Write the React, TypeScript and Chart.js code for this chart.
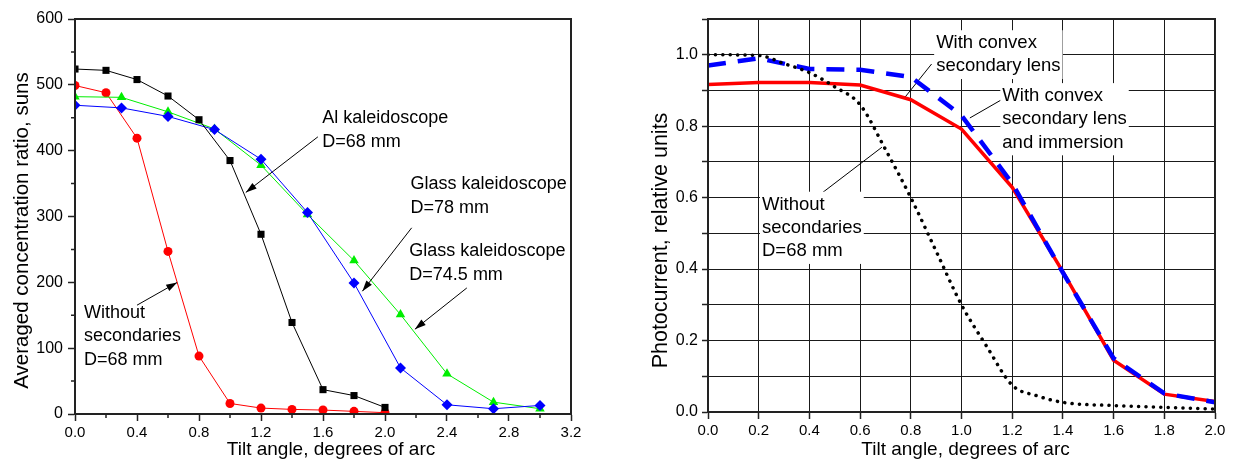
import React, { useEffect, useRef } from 'react';
import { Chart, registerables } from 'chart.js';

Chart.register(...registerables);

const FONT = '"Liberation Sans", Arial, Helvetica, sans-serif';

// ---------------- Left chart data ----------------
const leftAngles = [0, 0.2, 0.4, 0.6, 0.8, 1.0, 1.2, 1.4, 1.6, 1.8, 2.0];
const alKaleidoscope68 = [524, 522, 508, 483, 447, 385, 273, 139, 37, 28, 10];
const withoutSecondaries68 = [499, 488, 419, 247, 88, 16, 9, 7, 6, 4, 2];
const glassAngles = [0, 0.3, 0.6, 0.9, 1.2, 1.5, 1.8, 2.1, 2.4, 2.7, 3.0];
const glassKaleidoscope78 = [469, 465, 452, 432, 387, 306, 199, 70, 14, 8, 13];
const glassKaleidoscope745 = [482, 481, 459, 433, 378, 303, 233, 151, 61, 18, 8];

const leftXTicks = [0, 0.4, 0.8, 1.2, 1.6, 2.0, 2.4, 2.8, 3.2];
const leftXMinor = [0.2, 0.6, 1.0, 1.4, 1.8, 2.2, 2.6, 3.0];
const leftYTicks = [0, 100, 200, 300, 400, 500, 600];
const leftYMinor = [50, 150, 250, 350, 450, 550];

// ---------------- Right chart data ----------------
const rightAngles = [0, 0.2, 0.4, 0.6, 0.8, 1.0, 1.2, 1.4, 1.6, 1.8, 2.0];
const convexLens = [0.917, 0.922, 0.922, 0.915, 0.874, 0.792, 0.629, 0.392, 0.145, 0.05, 0.029];
const convexLensImmersion = [0.97, 0.99, 0.96, 0.958, 0.938, 0.83, 0.64, 0.39, 0.15, 0.052, 0.027];
const noSecAngles = [0, 0.2, 0.3, 0.4, 0.5, 0.6, 0.7, 0.8, 0.9, 1.0, 1.1, 1.2, 1.3, 1.4, 1.6, 1.8, 2.0];
const noSecondariesRel = [1.0, 0.998, 0.975, 0.95, 0.91, 0.86, 0.735, 0.6, 0.45, 0.3, 0.183, 0.075, 0.045, 0.027, 0.018, 0.013, 0.008];

const rightXTicks = [0, 0.2, 0.4, 0.6, 0.8, 1.0, 1.2, 1.4, 1.6, 1.8, 2.0];
const rightYGrid = [0, 0.1, 0.2, 0.3, 0.4, 0.5, 0.6, 0.7, 0.8, 0.9, 1.0, 1.1];
const rightYLabels = ['0.0', '0.2', '0.4', '0.6', '0.8', '1.0'];

// ---------------- Annotations (data coordinates) ----------------
const leftNotes = [
  { lines: ['Al kaleidoscope', 'D=68 mm'], at: [1.595, 449], from: [1.567, 421], to: [1.102, 336.6] },
  { lines: ['Glass kaleidoscope', 'D=78 mm'], at: [2.165, 349.2], from: [2.172, 282.8], to: [1.854, 186.5] },
  { lines: ['Glass kaleidoscope', 'D=74.5 mm'], at: [2.157, 247.8], from: [2.528, 191.5], to: [2.193, 128.8] },
  { lines: ['Without', 'secondaries', 'D=68 mm'], at: [0.058, 154.1], from: [0.4, 165.3], to: [0.659, 199.8] },
];

const rightNotes = [
  { lines: ['With convex', 'secondary lens'], at: [0.9, 1.033], from: [0.882, 0.974], to: [0.777, 0.881] },
  { lines: ['With convex', 'secondary lens', 'and immersion'], at: [1.161, 0.885], from: [1.158, 0.874], to: [1.033, 0.823] },
  { lines: ['Without', 'secondaries', 'D=68 mm'], at: [0.213, 0.581], from: [0.449, 0.6126], to: [0.686, 0.741] },
];

const xy = (xs: number[], ys: number[]) => xs.map((x, i) => ({ x, y: ys[i] }));

function drawArrow(ctx: CanvasRenderingContext2D, x1: number, y1: number, x2: number, y2: number) {
  ctx.beginPath();
  ctx.moveTo(x1, y1);
  ctx.lineTo(x2, y2);
  ctx.stroke();
  const a = Math.atan2(y2 - y1, x2 - x1);
  const L = 11;
  const W = 3.5;
  const c = Math.cos(a);
  const s = Math.sin(a);
  ctx.beginPath();
  ctx.moveTo(x2, y2);
  ctx.lineTo(x2 - L * c + W * s, y2 - L * s - W * c);
  ctx.lineTo(x2 - L * c - W * s, y2 - L * s + W * c);
  ctx.closePath();
  ctx.fill();
}

function drawFrame(ctx: CanvasRenderingContext2D, a: any) {
  ctx.strokeStyle = '#222';
  ctx.lineWidth = 2;
  ctx.strokeRect(a.left, a.top, a.right - a.left, a.bottom - a.top);
}

function drawTitle(ctx: CanvasRenderingContext2D, text: string, x: number, y: number, size: number, rot: number) {
  ctx.save();
  ctx.translate(x, y);
  ctx.rotate(rot);
  ctx.font = `${size}px ${FONT}`;
  ctx.fillStyle = '#000';
  ctx.textAlign = 'center';
  ctx.textBaseline = 'middle';
  ctx.fillText(text, 0, 0);
  ctx.restore();
}

const leftDecor = {
  id: 'leftDecor',
  afterDraw(chart: any) {
    const { ctx, chartArea: a, scales } = chart;
    const sx = scales.x;
    const sy = scales.y;
    ctx.save();
    drawFrame(ctx, a);
    ctx.strokeStyle = '#222';
    ctx.lineWidth = 1.5;
    ctx.beginPath();
    for (const v of leftXMinor) {
      const p = sx.getPixelForValue(v);
      ctx.moveTo(p, a.bottom);
      ctx.lineTo(p, a.bottom + 4);
    }
    for (const v of leftYMinor) {
      const p = sy.getPixelForValue(v);
      ctx.moveTo(a.left - 4, p);
      ctx.lineTo(a.left, p);
    }
    ctx.stroke();

    ctx.fillStyle = '#000';
    ctx.strokeStyle = '#000';
    ctx.lineWidth = 1;
    ctx.font = `18px ${FONT}`;
    ctx.textAlign = 'left';
    ctx.textBaseline = 'middle';
    for (const n of leftNotes) {
      const tx = sx.getPixelForValue(n.at[0]);
      const ty = sy.getPixelForValue(n.at[1]);
      n.lines.forEach((t, i) => ctx.fillText(t, tx, ty + i * 23.7));
      drawArrow(ctx, sx.getPixelForValue(n.from[0]), sy.getPixelForValue(n.from[1]),
        sx.getPixelForValue(n.to[0]), sy.getPixelForValue(n.to[1]));
    }
    drawTitle(ctx, 'Tilt angle, degrees of arc', (a.left + a.right) / 2 + 8, a.bottom + 36, 19, 0);
    drawTitle(ctx, 'Averaged concentration ratio, suns', 22, (a.top + a.bottom) / 2 + 14, 20.5, -Math.PI / 2);
    ctx.restore();
  },
};

const rightDecor = {
  id: 'rightDecor',
  beforeDatasetsDraw(chart: any) {
    const { ctx, scales } = chart;
    const sx = scales.x;
    const sy = scales.y;
    ctx.save();
    ctx.font = `18.5px ${FONT}`;
    ctx.textAlign = 'left';
    ctx.textBaseline = 'middle';
    const lh = 23.4;
    for (const n of rightNotes) {
      const tx = sx.getPixelForValue(n.at[0]);
      const ty = sy.getPixelForValue(n.at[1]);
      ctx.strokeStyle = '#000';
      ctx.lineWidth = 1;
      ctx.beginPath();
      ctx.moveTo(sx.getPixelForValue(n.from[0]), sy.getPixelForValue(n.from[1]));
      ctx.lineTo(sx.getPixelForValue(n.to[0]), sy.getPixelForValue(n.to[1]));
      ctx.stroke();
      const w = Math.max(...n.lines.map((t) => ctx.measureText(t).width));
      ctx.fillStyle = '#fff';
      ctx.fillRect(tx - 2, ty - lh / 2 - 1, w + 4, lh * n.lines.length + 2);
      ctx.fillStyle = '#000';
      n.lines.forEach((t, i) => ctx.fillText(t, tx, ty + i * lh));
    }
    ctx.restore();
  },
  afterDraw(chart: any) {
    const { ctx, chartArea: a } = chart;
    ctx.save();
    drawFrame(ctx, a);
    drawTitle(ctx, 'Tilt angle, degrees of arc', (a.left + a.right) / 2 + 4, a.bottom + 38, 19, 0);
    drawTitle(ctx, 'Photocurrent, relative units', 61, (a.top + a.bottom) / 2 + 25, 21.5, -Math.PI / 2);
    ctx.restore();
  },
};

function leftConfig(): any {
  return {
    type: 'scatter',
    data: {
      datasets: [
        { label: 'Al kaleidoscope D=68 mm', data: xy(leftAngles, alKaleidoscope68), showLine: true,
          borderColor: '#000', backgroundColor: '#000', borderWidth: 1, pointStyle: 'rect', pointRadius: 5, pointBorderWidth: 0 },
        { label: 'Glass kaleidoscope D=78 mm', data: xy(glassAngles, glassKaleidoscope78), showLine: true,
          borderColor: '#0000ff', backgroundColor: '#0000ff', borderWidth: 1, pointStyle: 'rectRot', pointRadius: 5.5, pointBorderWidth: 0 },
        { label: 'Glass kaleidoscope D=74.5 mm', data: xy(glassAngles, glassKaleidoscope745), showLine: true,
          borderColor: '#00ee00', backgroundColor: '#00ee00', borderWidth: 1, pointStyle: 'triangle', pointRadius: 5.5, pointBorderWidth: 0 },
        { label: 'Without secondaries D=68 mm', data: xy(leftAngles, withoutSecondaries68), showLine: true,
          borderColor: '#ff0000', backgroundColor: '#ff0000', borderWidth: 1, pointStyle: 'circle', pointRadius: 4.5, pointBorderWidth: 0 },
      ],
    },
    options: {
      responsive: false,
      animation: false,
      events: [],
      layout: { padding: { left: 0, top: 19, right: 29, bottom: 0 } },
      plugins: { legend: { display: false }, tooltip: { enabled: false } },
      scales: {
        x: {
          type: 'linear', min: 0, max: 3.2,
          afterBuildTicks: (s: any) => { s.ticks = leftXTicks.map((v) => ({ value: v })); },
          afterFit: (s: any) => { s.height = 48; },
          ticks: { callback: (v: any) => Number(v).toFixed(1), font: { family: FONT, size: 15 }, color: '#000', padding: 3, maxRotation: 0, autoSkip: false },
          grid: { display: true, drawOnChartArea: false, drawTicks: true, tickLength: 7, tickWidth: 1.5, tickColor: '#222' },
          border: { display: true, color: '#222', width: 2 },
        },
        y: {
          type: 'linear', min: 0, max: 600,
          afterBuildTicks: (s: any) => { s.ticks = leftYTicks.map((v) => ({ value: v })); },
          afterFit: (s: any) => { s.width = 75; },
          ticks: { callback: (v: any) => String(v), font: { family: FONT, size: 16 }, color: '#000', padding: 5, autoSkip: false },
          grid: { display: true, drawOnChartArea: false, drawTicks: true, tickLength: 7, tickWidth: 1.5, tickColor: '#222' },
          border: { display: true, color: '#222', width: 2 },
        },
      },
    },
    plugins: [leftDecor],
  };
}

function rightConfig(): any {
  return {
    type: 'scatter',
    data: {
      datasets: [
        { label: 'Without secondaries D=68 mm', data: xy(noSecAngles, noSecondariesRel), showLine: true,
          borderColor: '#000', borderWidth: 3.5, borderDash: [0.1, 7.3], borderCapStyle: 'round',
          cubicInterpolationMode: 'monotone', pointRadius: 0 },
        { label: 'With convex secondary lens and immersion', data: xy(rightAngles, convexLensImmersion), showLine: true,
          borderColor: '#0000ff', borderWidth: 4.5, borderDash: [18, 12], borderCapStyle: 'butt', pointRadius: 0 },
        { label: 'With convex secondary lens', data: xy(rightAngles, convexLens), showLine: true,
          borderColor: '#ff0000', borderWidth: 3.5, pointRadius: 0 },
      ],
    },
    options: {
      responsive: false,
      animation: false,
      events: [],
      layout: { padding: { left: 0, top: 19, right: 20, bottom: 0 } },
      plugins: { legend: { display: false }, tooltip: { enabled: false } },
      scales: {
        x: {
          type: 'linear', min: 0, max: 2.0,
          afterBuildTicks: (s: any) => { s.ticks = rightXTicks.map((v) => ({ value: v })); },
          afterFit: (s: any) => { s.height = 50; },
          ticks: { callback: (v: any) => Number(v).toFixed(1), font: { family: FONT, size: 15 }, color: '#000', padding: 3, maxRotation: 0, autoSkip: false },
          grid: { display: true, drawOnChartArea: true, color: '#1a1a1a', lineWidth: 1, drawTicks: true, tickLength: 7, tickWidth: 1.5, tickColor: '#222' },
          border: { display: true, color: '#222', width: 2 },
        },
        y: {
          type: 'linear', min: 0, max: 1.1,
          afterBuildTicks: (s: any) => { s.ticks = rightYGrid.map((v) => ({ value: v })); },
          afterFit: (s: any) => { s.width = 108; },
          ticks: {
            callback: (v: any) => { const t = Number(v).toFixed(1); return rightYLabels.includes(t) ? t : ''; },
            font: { family: FONT, size: 16 }, color: '#000', padding: 4, autoSkip: false,
          },
          grid: { display: true, drawOnChartArea: true, color: '#1a1a1a', lineWidth: 1, drawTicks: true, tickLength: 6, tickWidth: 1.5, tickColor: '#222' },
          border: { display: true, color: '#222', width: 2 },
        },
      },
    },
    plugins: [rightDecor],
  };
}

export default function App() {
  const leftRef = useRef<HTMLCanvasElement>(null);
  const rightRef = useRef<HTMLCanvasElement>(null);
  useEffect(() => {
    const c1 = new Chart(leftRef.current as HTMLCanvasElement, leftConfig());
    const c2 = new Chart(rightRef.current as HTMLCanvasElement, rightConfig());
    return () => {
      c1.destroy();
      c2.destroy();
    };
  }, []);
  return (
    <div style={{ position: 'absolute', left: 0, top: 0, width: 1235, height: 462, background: '#fff' }}>
      <canvas ref={leftRef} width={600} height={462} style={{ position: 'absolute', left: 0, top: 0, width: 600, height: 462 }} />
      <canvas ref={rightRef} width={635} height={462} style={{ position: 'absolute', left: 600, top: 0, width: 635, height: 462 }} />
    </div>
  );
}
